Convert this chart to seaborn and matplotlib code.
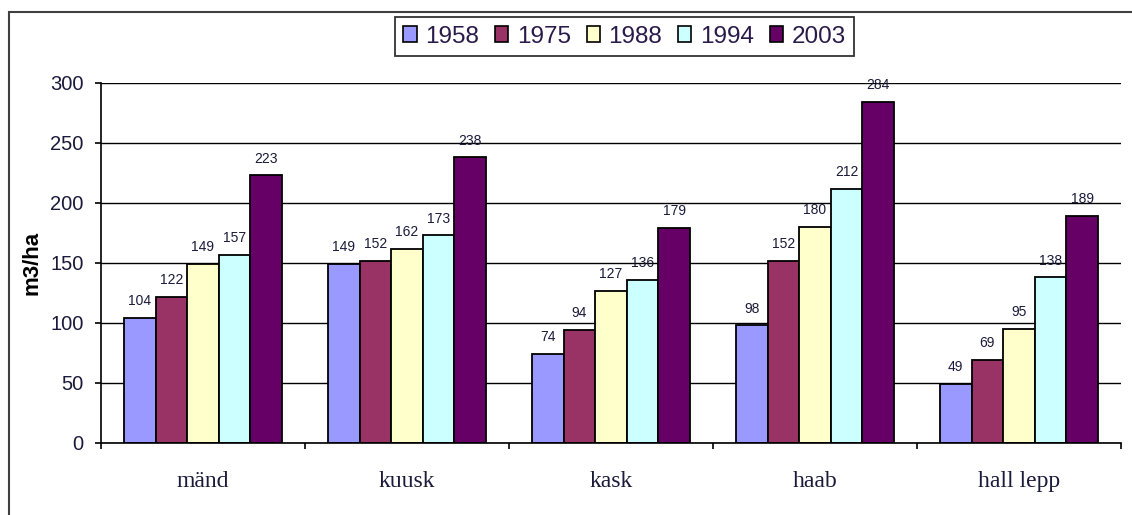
import pandas as pd
import matplotlib
matplotlib.use('Agg')
import matplotlib.pyplot as plt
from matplotlib.patches import Rectangle, Patch
import seaborn as sns

# Data (m3/ha by tree species and year)
species = ['mänd', 'kuusk', 'kask', 'haab', 'hall lepp']
years = ['1958', '1975', '1988', '1994', '2003']
v1958 = [104, 149, 74, 98, 49]
v1975 = [122, 152, 94, 152, 69]
v1988 = [149, 162, 127, 180, 95]
v1994 = [157, 173, 136, 212, 138]
v2003 = [223, 238, 179, 284, 189]
year_colors = ['#9999FF', '#993366', '#FFFFCC', '#CCFFFF', '#660066']

series = dict(zip(years, [v1958, v1975, v1988, v1994, v2003]))
df = pd.DataFrame([
    {'species': s, 'year': y, 'value': vals[i]}
    for y, vals in series.items() for i, s in enumerate(species)
])

sns.set_style('white')
plt.rcParams['font.family'] = ['Liberation Sans', 'DejaVu Sans']

fig = plt.figure(figsize=(11.32, 5.15), dpi=100)
ax = fig.add_axes([101 / 1132, 1 - 443 / 515, 1020 / 1132, 360 / 515])

palette = dict(zip(years, year_colors))
sns.barplot(data=df, x='species', y='value', hue='year', order=species,
            hue_order=years, palette=palette, width=0.775, saturation=1,
            edgecolor='black', linewidth=1.3, legend=False, ax=ax)

# value labels above bars
for cont in ax.containers:
    ax.bar_label(cont, padding=7, fontsize=10, color='#1a1a3a')

ax.set_ylim(0, 300)
ax.set_xlim(-0.5, len(species) - 0.5)
ax.set_yticks(range(0, 301, 50))
ax.set_axisbelow(True)
ax.yaxis.grid(True, color='black', linewidth=1)
ax.xaxis.grid(False)

for side in ['top', 'right']:
    ax.spines[side].set_visible(False)
for side in ['left', 'bottom']:
    ax.spines[side].set_color('black')
    ax.spines[side].set_linewidth(1.2)

# category ticks between groups, labels at centres
ax.set_xticks([i - 0.5 for i in range(len(species) + 1)], minor=True)
ax.tick_params(axis='x', which='minor', length=4.5, width=1.2, color='black', direction='out', bottom=True)
ax.tick_params(axis='x', which='major', length=0, pad=20)
for lab in ax.get_xticklabels():
    lab.set_fontfamily(['Liberation Serif', 'DejaVu Serif'])
    lab.set_fontsize(17)
    lab.set_color('#1a1a3a')

ax.tick_params(axis='y', length=4.5, width=1.2, color='black', direction='out', left=True, pad=8, labelsize=14.5)
for lab in ax.get_yticklabels():
    lab.set_color('#1a1a3a')

ax.set_xlabel('')
ax.set_ylabel('m3/ha', fontsize=16, fontweight='bold', color='black')
ax.yaxis.set_label_coords(-0.057, 0.5)

# legend on top
handles = [Patch(facecolor=c, edgecolor='black', linewidth=1.2) for c in year_colors]
leg = fig.legend(handles, years, loc='upper center', bbox_to_anchor=(624.5 / 1132, 1 - 17 / 515),
                 ncol=5, fontsize=17.5, frameon=True, fancybox=False, edgecolor='black',
                 handlelength=0.55, handleheight=0.6, handletextpad=0.35, columnspacing=0.65,
                 borderpad=0.35, borderaxespad=0)
leg.get_frame().set_linewidth(1.3)
for t in leg.get_texts():
    t.set_color('#2a1a4a')

# outer chart-area border (cut off at right and bottom)
fig.add_artist(Rectangle((9 / 1132, -0.05), 1.2, 1 - 12 / 515 + 0.05, transform=fig.transFigure,
                         fill=False, edgecolor='#404040', linewidth=1.5))

fig.savefig('out.png', dpi=100)
